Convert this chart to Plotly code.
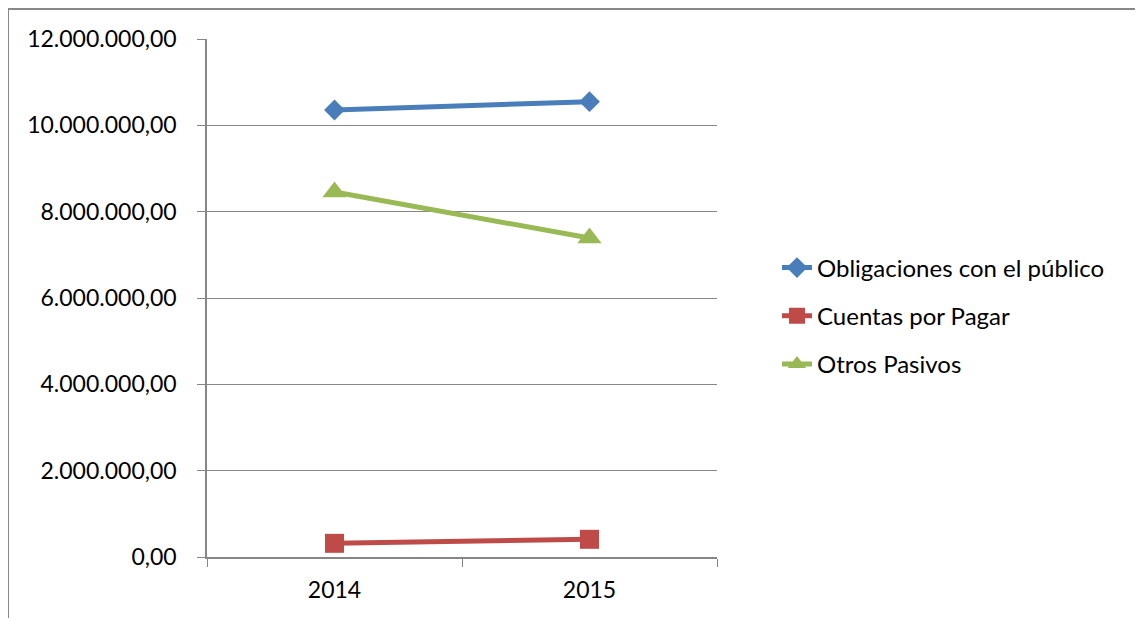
import plotly.graph_objects as go

years = ["2014", "2015"]
obligaciones = [10355000, 10547000]
cuentas = [317000, 410000]
otros = [8455000, 7390000]
y_ticks = [0, 2000000, 4000000, 6000000, 8000000, 10000000, 12000000]
y_tick_labels = ["0,00", "2.000.000,00", "4.000.000,00", "6.000.000,00",
                 "8.000.000,00", "10.000.000,00", "12.000.000,00"]

fig = go.Figure()
series = [
    ("Obligaciones con el público", obligaciones, "#4A7EBB", "diamond", 16),
    ("Cuentas por Pagar", cuentas, "#BE4B48", "square", 19),
    ("Otros Pasivos", otros, "#98B954", "triangle-up", 21),
]
for i, (name, vals, col, sym, sz) in enumerate(series):
    fig.add_trace(go.Scatter(
        x=years, y=vals, name=name, mode="lines+markers",
        line=dict(color=col, width=5),
        marker=dict(symbol=sym, size=sz, color=col),
        legendgroup=f"g{i}",
    ))

OFF = 8  # page body margin
L, R, T, B = 207 - OFF, 717 - OFF, 39 - OFF, 557 - OFF
W, H = 1143 - OFF, 618 - OFF
fig.update_layout(
    width=W, height=H,
    margin=dict(l=L, r=W - R, t=T, b=H - B, pad=0),
    plot_bgcolor="white", paper_bgcolor="white",
    font=dict(family="Lato, Carlito, sans-serif", size=23, color="#000000"),
    showlegend=True,
    legend=dict(x=(777 - OFF - L) / (R - L), y=(B - (316 - OFF)) / (B - T),
                xanchor="left", yanchor="middle",
                font=dict(size=24), tracegroupgap=14, bgcolor="rgba(0,0,0,0)"),
    xaxis=dict(type="category", range=[-0.5, 1.5], showgrid=False,
               showline=True, linecolor="#868686", linewidth=1.5,
               ticks="outside", ticklen=8, tickcolor="#868686", tickson="boundaries",
               tickfont=dict(size=23), ticklabelstandoff=12),
    yaxis=dict(range=[0, 12000000], tickvals=y_ticks, ticktext=y_tick_labels,
               showgrid=True, gridcolor="#868686", gridwidth=1.2,
               showline=True, linecolor="#868686", linewidth=1.5,
               ticks="outside", ticklen=8, tickcolor="#868686",
               tickfont=dict(size=23), zeroline=False, ticklabelstandoff=16),
)

def px_x(px):
    return (px - OFF - L) / (R - L)

def px_y(py):
    return (B - (py - OFF)) / (B - T)

fig.add_shape(type="line", xref="paper", yref="paper",
              x0=px_x(8), x1=px_x(8), y0=px_y(9), y1=px_y(640),
              line=dict(color="#888888", width=2))
fig.add_shape(type="line", xref="paper", yref="paper",
              x0=px_x(8), x1=px_x(1160), y0=px_y(9), y1=px_y(9),
              line=dict(color="#888888", width=2))

fig.write_html("out.html")
